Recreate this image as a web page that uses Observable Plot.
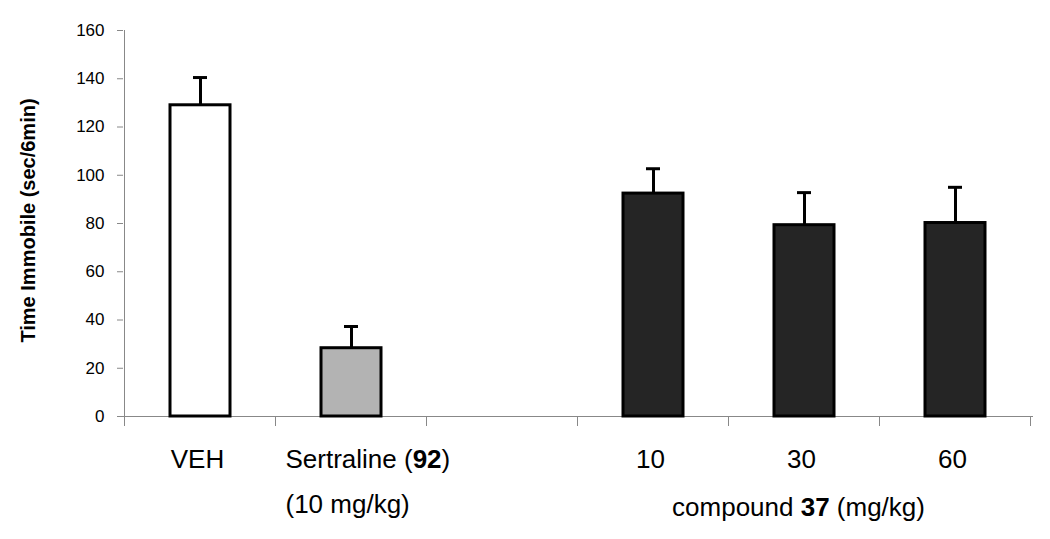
<!DOCTYPE html>
<html><head><meta charset="utf-8">
<script src="https://cdn.jsdelivr.net/npm/d3@7"></script>
<script src="https://cdn.jsdelivr.net/npm/@observablehq/plot@0.6"></script>
<style>
body{margin:0;background:#fff;}
#chart svg{font-family:"Liberation Sans",Arial,sans-serif;}
</style></head><body><div id="chart"></div>
<script>
// ---- data ----
const slots = ["VEH", "Sertraline", "gap", "10", "30", "60"];
const groups = ["VEH", "Sertraline", "10", "30", "60"];
const means = [129, 28.3, 92.4, 79.3, 80.2];
const upper = [140.5, 37.3, 102.7, 92.8, 95.0];
const fills = ["#ffffff", "#b3b3b3", "#252525", "#252525", "#252525"];
const yTicks = [0, 20, 40, 60, 80, 100, 120, 140, 160];
const groupLabels = ["VEH", "Sertraline (92)", "10", "30", "60"];
const doseLabel = "(10 mg/kg)";
const compoundLabel = "compound 37 (mg/kg)";
const yLabel = "Time Immobile (sec/6min)";
const boldParts = {"Sertraline (92)": "92", "compound 37 (mg/kg)": "37"};

const data = groups.map((g, i) => ({group: g, mean: means[i], upper: upper[i], fill: fills[i], label: groupLabels[i]}));
const axisColor = "#888";

function slotTicks(index, scales) {
  const x = scales.x, y = scales.y;
  const step = x.step(), bw = x.bandwidth();
  const pad = (step - bw) / 2;
  const edges = slots.map(c => x(c) - pad);
  edges.push(x(slots[slots.length - 1]) + bw + pad);
  const y0 = y(0);
  const g = d3.create("svg:g").attr("stroke", axisColor).attr("stroke-width", 1);
  g.append("line").attr("x1", edges[0]).attr("x2", edges[0]).attr("y1", y(160)).attr("y2", y0 + 10);
  for (const e of edges) g.append("line").attr("x1", e).attr("x2", e).attr("y1", y0).attr("y2", y0 + 10);
  return g.node();
}

const plot = Plot.plot({
  width: 1050,
  height: 539,
  marginLeft: 123,
  marginRight: 17,
  marginTop: 30,
  marginBottom: 123,
  style: {fontFamily: "Liberation Sans, Arial, sans-serif", color: "#000", background: "#fff"},
  x: {domain: slots, paddingInner: 0.6, paddingOuter: 0.3, axis: null},
  y: {domain: [0, 160], axis: null},
  marks: [
    Plot.axisY({ticks: yTicks, tickSize: 6, tickPadding: 13, label: null, tickFormat: d => d, fontSize: 17, stroke: axisColor, fill: "#000"}),
    Plot.ruleY([0], {stroke: axisColor}),
    slotTicks,
    Plot.barY(data, {x: "group", y: "mean", fill: "fill", stroke: "#000", strokeWidth: 3}),
    Plot.ruleX(data, {x: "group", y1: "mean", y2: "upper", stroke: "#000", strokeWidth: 3}),
    Plot.tickY(data, {x: "group", y: "upper", stroke: "#000", strokeWidth: 3, inset: 23}),
    Plot.text(data.filter(d => d.group !== "Sertraline"), {x: "group", text: "label", frameAnchor: "bottom", dy: 51, dx: -3, fontSize: 26, fill: "#000"}),
    Plot.text([groupLabels[1]], {x: () => "Sertraline", text: d => d, frameAnchor: "bottom", dy: 51, dx: -66, textAnchor: "start", fontSize: 26, fill: "#000"}),
    Plot.text([doseLabel], {x: () => "Sertraline", text: d => d, frameAnchor: "bottom", dy: 96, dx: -66, textAnchor: "start", fontSize: 26, fill: "#000"}),
    Plot.text([compoundLabel], {x: () => "30", text: d => d, frameAnchor: "bottom", dy: 99, dx: -6, fontSize: 26, fill: "#000"}),
    Plot.text([yLabel], {text: d => d, frameAnchor: "left", textAnchor: "middle", rotate: -90, dx: -95, dy: -3, fontSize: 20, fontWeight: "bold", fill: "#000"})
  ]
});

// larger y tick labels
d3.select(plot).selectAll("g").filter(function () {
  const a = this.getAttribute("aria-label") || "";
  return a.includes("y-axis");
}).selectAll("text").style("font-size", "17px");
// bold compound numbers
d3.select(plot).selectAll("text").each(function () {
  const t = this.textContent;
  if (boldParts[t] && this.children.length === 0) {
    const b = boldParts[t];
    const k = t.indexOf(b);
    const el = d3.select(this);
    el.text(null);
    el.append("tspan").text(t.slice(0, k));
    el.append("tspan").attr("font-weight", "bold").text(b);
    el.append("tspan").text(t.slice(k + b.length));
  }
});
document.getElementById("chart").append(plot);
</script></body></html>
